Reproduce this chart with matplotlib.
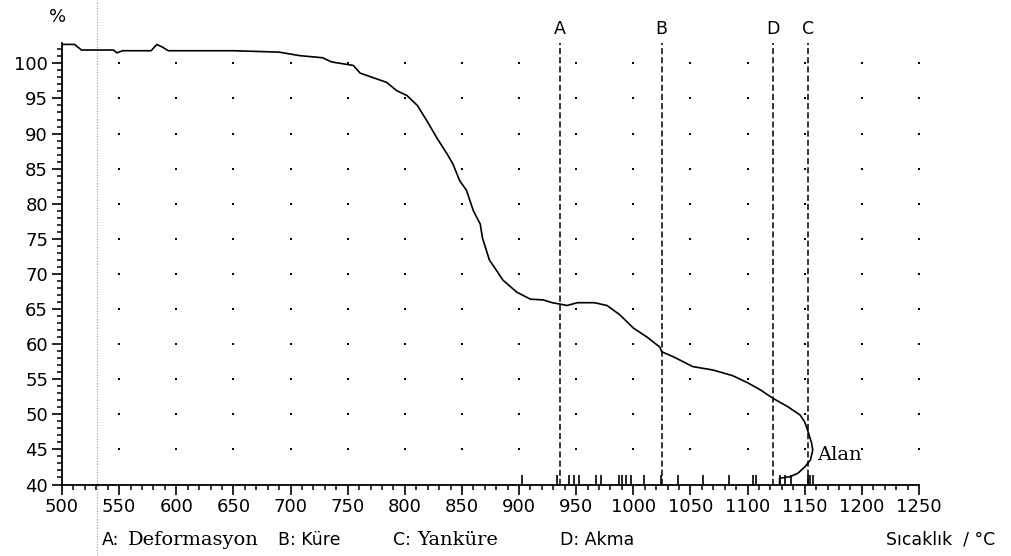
import matplotlib
matplotlib.use('Agg')
from matplotlib import pyplot as plt
from matplotlib.ticker import MultipleLocator

#
# Data
#

temp = [500, 511, 517, 545, 548, 553, 578, 583, 588, 593, 650, 690, 708, 728, 736,
        755, 761, 784, 793, 802, 811, 819, 828, 837, 842, 848, 854, 860, 866, 868,
        874, 886, 898, 910, 921, 929, 936, 942, 951, 966, 977, 988, 1000, 1012, 1023,
        1025, 1035, 1052, 1070, 1087, 1100, 1111, 1122, 1135, 1146, 1150, 1153, 1156,
        1157, 1155, 1150, 1144, 1137, 1128, 1128]
percent = [102.7, 102.7, 101.9, 101.9, 101.5, 101.8, 101.8, 102.7, 102.3, 101.8, 101.8,
           101.6, 101.1, 100.8, 100.2, 99.7, 98.6, 97.3, 96.1, 95.4, 94.0, 91.9, 89.4,
           87.1, 85.7, 83.3, 81.9, 79.0, 77.1, 75.1, 72.0, 69.1, 67.4, 66.4, 66.3, 65.9,
           65.7, 65.5, 65.9, 65.9, 65.5, 64.2, 62.3, 61.0, 59.6, 58.9, 58.2, 56.8, 56.3,
           55.5, 54.5, 53.5, 52.3, 51.1, 49.9, 48.9, 47.5, 45.9, 44.9, 43.5, 42.5, 41.6,
           41.1, 40.9, 40.0]

# characteristic temperatures (vertical markers)
marker_labels = ['A', 'B', 'D', 'C']
marker_temps = [935.8, 1024.8, 1121.9, 1153.1]

# small rug marks along the bottom
rug_temps = [902.7, 933.4, 943.3, 947.7, 952.1, 967.0, 971.4, 987.1, 989.7, 993.2,
             997.6, 1009.0, 1023.9, 1038.8, 1060.7, 1083.5, 1104.5, 1107.1, 1128.0,
             1133.0, 1138.0, 1153.0, 1155.0, 1157.0]

x_ticks = list(range(500, 1251, 50))
y_ticks = list(range(40, 101, 5))
dot_x = list(range(550, 1251, 50))
dot_y = list(range(45, 101, 5))

#
# Figure
#

fig = plt.figure(figsize=(10.11, 5.56), dpi=100)
ax = fig.add_axes([62 / 1011, 1 - 484.5 / 556, (919 - 62) / 1011, (484.5 - 43) / 556])

ax.set_xlim(500, 1250)
ax.set_ylim(40, 102.9)

for s in ['top', 'right']:
  ax.spines[s].set_visible(False)
for s in ['left', 'bottom']:
  ax.spines[s].set_linewidth(1.3)

# dotted grid
gx = [x for x in dot_x for _ in dot_y]
gy = [y for _ in dot_x for y in dot_y]
ax.scatter(gx, gy, s=3, marker='s', color='black', linewidths=0, zorder=1)

# characteristic temperatures
for lab, t in zip(marker_labels, marker_temps):
  ax.plot([t, t], [40, 102.9], color='black', lw=1.1, ls=(0, (4, 2)), clip_on=False, zorder=2)
  ax.text(t, 1.031, lab, transform=ax.get_xaxis_transform(), ha='center', va='center',
          fontsize=12.5, family='DejaVu Sans')

# rug marks
ax.vlines(rug_temps, 40, 41.4, color='black', lw=1.2, zorder=2)

# curve
ax.plot(temp, percent, color='black', lw=1.2, zorder=3)

ax.text(1161, 44.2, 'Alan', fontsize=14, family='DejaVu Serif', va='center', ha='left')

# scanner artefact line
ax.plot([530.6, 530.6], [-0.162, 1.097], transform=ax.get_xaxis_transform(), clip_on=False,
        color='#9a9a9a', lw=0.8, ls=(0, (1, 1.5)), zorder=0)

# ticks
ax.set_xticks(x_ticks)
ax.set_yticks(y_ticks)
ax.xaxis.set_minor_locator(MultipleLocator(10))
ax.yaxis.set_minor_locator(MultipleLocator(1))
ax.tick_params(which='major', length=7, width=1.2, labelsize=13, pad=3)
ax.tick_params(which='minor', length=3.5, width=1.1)
for lbl in ax.get_xticklabels() + ax.get_yticklabels():
  lbl.set_family('DejaVu Sans')

# axis titles and legend text
fig.text(58 / 1011, 1 - 17 / 556, '%', fontsize=13, ha='center', va='center')
fig.text(995 / 1011, 1 - 540 / 556, 'Sıcaklık  / °C', fontsize=12.5, ha='right', va='center')

legend_y = 1 - 540 / 556
fig.text(102 / 1011, legend_y, 'A:', fontsize=12.5, va='center')
fig.text(128 / 1011, legend_y, 'Deformasyon', fontsize=14, family='DejaVu Serif', va='center')
fig.text(278 / 1011, legend_y, 'B: Küre', fontsize=12.5, va='center')
fig.text(393 / 1011, legend_y, 'C:', fontsize=12.5, va='center')
fig.text(417 / 1011, legend_y, 'Yanküre', fontsize=14, family='DejaVu Serif', va='center')
fig.text(560 / 1011, legend_y, 'D: Akma', fontsize=12.5, va='center')

fig.savefig('out.png', dpi=100)
